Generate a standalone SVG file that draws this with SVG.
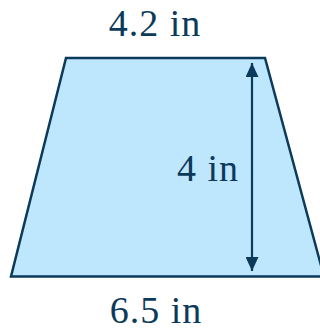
<svg xmlns="http://www.w3.org/2000/svg" width="320" height="331" viewBox="0 0 320 331">
<style>
.lbl{font-family:"Liberation Serif","DejaVu Serif",serif;font-size:38px;letter-spacing:1px;fill:#0c3a5b}
</style>
<defs>
<marker id="ah" viewBox="0 0 14 13" refX="14" refY="6.5" markerWidth="14" markerHeight="13" markerUnits="userSpaceOnUse" orient="auto-start-reverse">
<path d="M0,0 L14,6.5 L0,13 z" fill="#0c3a5b"/>
</marker>
</defs>
<g id="trapezoid">
<polygon points="66,58 265,58 324,276.5 11,276.5" fill="#bee6fd" stroke="#0c3a5b" stroke-width="2.5" stroke-linejoin="miter"/>
</g>
<g id="connectors">
<line x1="252" y1="63" x2="252" y2="271" stroke="#0c3a5b" stroke-width="2.2" marker-start="url(#ah)" marker-end="url(#ah)"/>
</g>
<g id="labels">
<text class="lbl" x="155" y="36" text-anchor="middle">4.2 in</text>
<text class="lbl" x="239" y="181" text-anchor="end">4 in</text>
<text class="lbl" x="156" y="323" text-anchor="middle">6.5 in</text>
</g>
</svg>
